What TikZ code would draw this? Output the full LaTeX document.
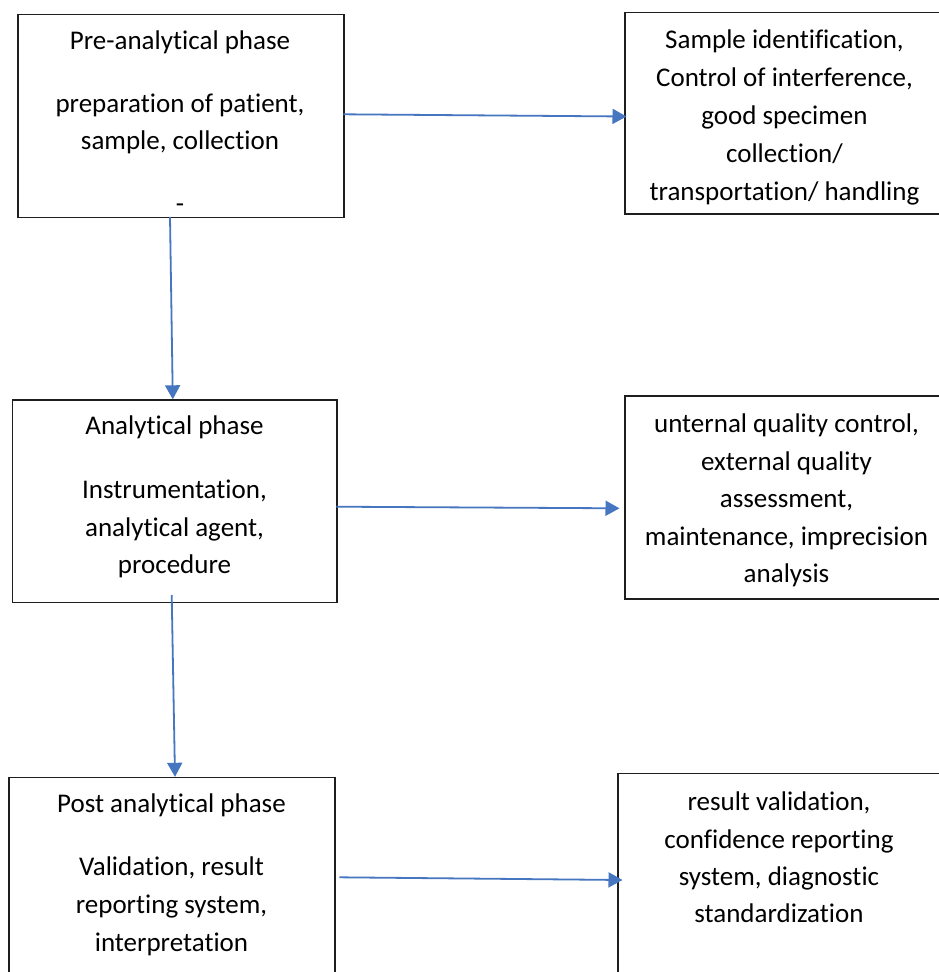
\documentclass[tikz,border=0pt]{standalone}
\usepackage{fontspec}
\setmainfont{Carlito}[Ligatures={NoCommon,NoRequired,NoContextual}]
\usetikzlibrary{arrows.meta}
\definecolor{arrowblue}{RGB}{70,118,192}
\definecolor{boxline}{RGB}{30,30,30}
\tikzset{
  box/.style={draw=boxline, line width=1.3pt, rectangle, anchor=north west, inner sep=0pt},
  txt/.style={anchor=base, inner sep=0pt, font=\fontsize{27}{38}\selectfont, text=black},
  conn/.style={draw=arrowblue, line width=1.8pt, -{Triangle[length=14pt,width=15pt]}}
}
\begin{document}
\begin{tikzpicture}[x=1pt,y=-1pt]
\useasboundingbox (0,0) rectangle (939,972);
\fill[white] (0,0) rectangle (939,972);
\clip (0,0) rectangle (939,972);

% boxes
\node[box, minimum width=326pt, minimum height=202.5pt] (A) at (17.3,14) {};
\node[box, minimum width=321pt, minimum height=201.5pt] (B) at (624.3,11.8) {};
\node[box, minimum width=324.5pt, minimum height=202.5pt] (C) at (11.8,399.3) {};
\node[box, minimum width=325pt, minimum height=203pt] (D) at (624.3,395.2) {};
\node[box, minimum width=326pt, minimum height=230pt] (E) at (8.3,776.8) {};
\node[box, minimum width=330pt, minimum height=230pt] (F) at (617.3,772.8) {};

% texts box A
\node[txt] (a1) at (180,49) {Pre-analytical phase};
\node[txt] (a2) at (180,112) {preparation of patient,};
\node[txt] (a3) at (180,149.5) {sample, collection};
\node[txt] (a4) at (180,212) {-};

% texts box B
\node[txt] (b1) at (784.5,48) {Sample identification,};
\node[txt] (b2) at (784.5,86) {Control of interference,};
\node[txt] (b3) at (784.5,124) {good specimen};
\node[txt] (b4) at (784.5,162) {collection/};
\node[txt] (b5) at (784.5,200) {transportation/ handling};

% texts box C
\node[txt] (c1) at (174.5,434) {Analytical phase};
\node[txt] (c2) at (174.5,498) {Instrumentation,};
\node[txt] (c3) at (174.5,536) {analytical agent,};
\node[txt] (c4) at (174.5,573.5) {procedure};

% texts box D
\node[txt] (d1) at (786.5,432) {unternal quality control,};
\node[txt] (d2) at (786.5,470) {external quality};
\node[txt] (d3) at (786.5,507.5) {assessment,};
\node[txt] (d4) at (786.5,545) {maintenance, imprecision};
\node[txt] (d5) at (786.5,582.5) {analysis};

% texts box E
\node[txt] (e1) at (171.5,812) {Post analytical phase};
\node[txt] (e2) at (171.5,875.5) {Validation, result};
\node[txt] (e3) at (171.5,913) {reporting system,};
\node[txt] (e4) at (171.5,951) {interpretation};

% texts box F
\node[txt] (f1) at (779,810) {result validation,};
\node[txt] (f2) at (779,848) {confidence reporting};
\node[txt] (f3) at (779,885.5) {system, diagnostic};
\node[txt] (f4) at (779,922.5) {standardization};

% connector end points on the box borders
\coordinate (AtoB1) at (343.3,114.3);
\coordinate (AtoB2) at (626.5,116.5);
\coordinate (AtoC1) at (170,217);
\coordinate (AtoC2) at (172.8,399.3);
\coordinate (CtoD1) at (336.3,506.7);
\coordinate (CtoD2) at (619.5,508.3);
\coordinate (CtoE1) at (171.7,595);
\coordinate (CtoE2) at (175,776.8);
\coordinate (EtoF1) at (339.3,877.3);
\coordinate (EtoF2) at (622.5,880);

\draw[conn] (AtoB1) -- (AtoB2);
\draw[conn] (AtoC1) -- (AtoC2);
\draw[conn] (CtoD1) -- (CtoD2);
\draw[conn] (CtoE1) -- (CtoE2);
\draw[conn] (EtoF1) -- (EtoF2);
\end{tikzpicture}
\end{document}
